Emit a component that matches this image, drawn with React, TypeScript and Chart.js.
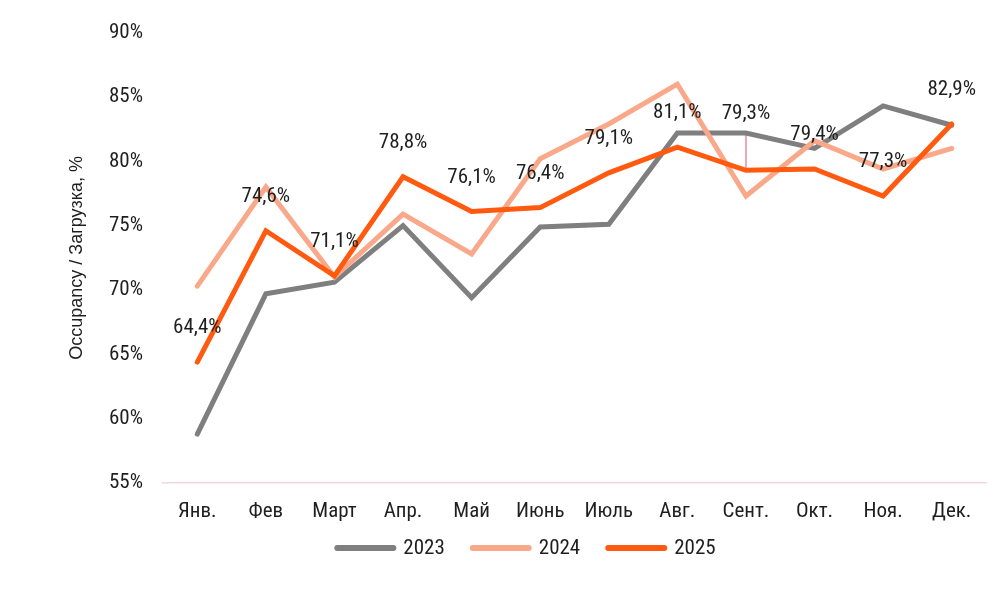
import React, { useEffect, useRef } from "react";
import { Chart, registerables } from "chart.js";

Chart.register(...registerables);

const months = ["Янв.", "Фев", "Март", "Апр.", "Май", "Июнь", "Июль", "Авг.", "Сент.", "Окт.", "Ноя.", "Дек."];
const yearLabels = ["2023", "2024", "2025"];
const values2023 = [58.8, 69.7, 70.6, 75.0, 69.4, 74.9, 75.1, 82.2, 82.2, 81.0, 84.3, 82.8];
const values2024 = [70.3, 78.0, 71.0, 75.9, 72.8, 80.2, 82.9, 86.0, 77.3, 81.6, 79.4, 81.0];
const values2025 = [64.4, 74.6, 71.1, 78.8, 76.1, 76.4, 79.1, 81.1, 79.3, 79.4, 77.3, 82.9];
const yTicks = [55, 60, 65, 70, 75, 80, 85, 90];
const connectorIndex = 8;
const labelLift = [34, 34, 34, 34, 34, 34, 34, 34, 57, 34, 34, 34];

const FONT = "'Roboto Condensed', 'Liberation Sans Narrow', Roboto, sans-serif";
const FONT_SIZE = 21;
const TEXT = "#1f1f1f";
const LEGEND_CENTER_X = 525;
const LEGEND_Y = 548;

const connectorPlugin = {
  id: "connector",
  beforeDatasetsDraw(chart: any) {
    const { ctx, scales } = chart;
    const x = scales.x.getPixelForValue(connectorIndex);
    const y1 = scales.y.getPixelForValue(values2023[connectorIndex]);
    const y2 = scales.y.getPixelForValue(values2025[connectorIndex]);
    ctx.save();
    ctx.strokeStyle = "#f0a6b6";
    ctx.lineWidth = 2;
    ctx.beginPath();
    ctx.moveTo(x, y1);
    ctx.lineTo(x, y2);
    ctx.stroke();
    ctx.restore();
  },
};

const labelPlugin = {
  id: "valueLabels",
  afterDatasetsDraw(chart: any) {
    const { ctx, scales } = chart;
    ctx.save();
    ctx.font = `${FONT_SIZE}px ${FONT}`;
    ctx.fillStyle = TEXT;
    ctx.textAlign = "center";
    ctx.textBaseline = "middle";
    values2025.forEach((v, i) => {
      const x = scales.x.getPixelForValue(i);
      const y = scales.y.getPixelForValue(v);
      ctx.fillText(v.toFixed(1).replace(".", ",") + "%", x, y - labelLift[i]);
    });
    ctx.restore();
  },
};

const legendPlugin = {
  id: "customLegend",
  afterDraw(chart: any) {
    const { ctx } = chart;
    const ds = chart.data.datasets;
    const lineLen = 62;
    const textGap = 7;
    const itemGap = 25;
    ctx.save();
    ctx.font = `${FONT_SIZE}px ${FONT}`;
    const widths = ds.map((d: any) => lineLen + textGap + ctx.measureText(d.label).width);
    const total = widths.reduce((a: number, b: number) => a + b, 0) + itemGap * (ds.length - 1);
    let x = LEGEND_CENTER_X - total / 2;
    ds.forEach((d: any, i: number) => {
      ctx.strokeStyle = d.borderColor;
      ctx.lineWidth = 6;
      ctx.lineCap = "round";
      ctx.beginPath();
      ctx.moveTo(x + 3, LEGEND_Y);
      ctx.lineTo(x + lineLen - 3, LEGEND_Y);
      ctx.stroke();
      ctx.fillStyle = TEXT;
      ctx.textAlign = "left";
      ctx.textBaseline = "middle";
      ctx.fillText(d.label, x + lineLen + textGap, LEGEND_Y + 1);
      x += widths[i] + itemGap;
    });
    ctx.restore();
  },
};

export default function App() {
  const ref = useRef<HTMLCanvasElement>(null);
  useEffect(() => {
    if (!ref.current) return;
    const mk = (label: string, data: number[], color: string, order: number) => ({
      label,
      data,
      borderColor: color,
      backgroundColor: color,
      borderWidth: 5,
      pointRadius: 0,
      tension: 0,
      borderCapStyle: "round" as const,
      order,
    });
    const chart = new Chart(ref.current, {
      type: "line",
      data: {
        labels: months,
        datasets: [
          mk(yearLabels[0], values2023, "#7f7f7f", 2),
          mk(yearLabels[1], values2024, "#f9a98a", 1),
          mk(yearLabels[2], values2025, "#ff5a10", 0),
        ],
      },
      options: {
        animation: false,
        responsive: true,
        maintainAspectRatio: false,
        layout: { padding: { top: 32, right: 7, left: 0, bottom: 62 } },
        plugins: {
          tooltip: { enabled: false },
          legend: { display: false },
        },
        scales: {
          x: {
            offset: true,
            grid: { display: false, drawTicks: false },
            border: { display: true, color: "#f5d5dc", width: 1.5 },
            ticks: { color: TEXT, font: { family: FONT, size: FONT_SIZE }, padding: 16, maxRotation: 0, autoSkip: false },
            afterFit: (s: any) => { s.height = 45; },
          },
          y: {
            min: 55,
            max: 90,
            afterBuildTicks: (s: any) => { s.ticks = yTicks.map((v) => ({ value: v })); },
            grid: { display: false, drawTicks: false },
            border: { display: false },
            ticks: {
              color: TEXT,
              font: { family: FONT, size: FONT_SIZE },
              padding: 20,
              callback: (v: any) => v + "%",
            },
            title: {
              display: true,
              text: "Occupancy / Загрузка, %",
              color: TEXT,
              font: { family: "'Liberation Sans', Arial, sans-serif", size: 18 },
              padding: { top: 66, bottom: 0 },
            },
            afterFit: (s: any) => { s.width = 163; },
          },
        },
      },
      plugins: [connectorPlugin, labelPlugin, legendPlugin],
    });
    return () => chart.destroy();
  }, []);
  return (
    <div style={{ position: "absolute", left: 0, top: 0, width: 993, height: 590, background: "#fff" }}>
      <canvas ref={ref} />
    </div>
  );
}
